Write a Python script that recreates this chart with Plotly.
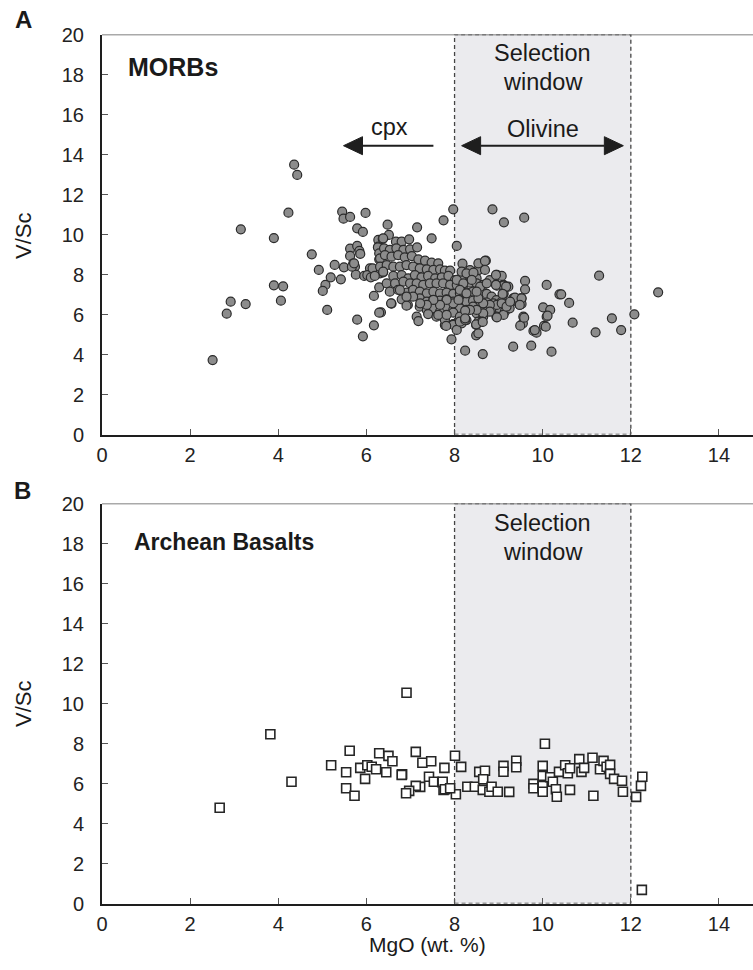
import plotly.graph_objects as go

# ---------------- DATA ----------------
# Panel A: MORBs (MgO wt.%, V/Sc)
morb_left = [(2.51,3.72),(2.83,6.04),(2.92,6.64),(3.26,6.52),(3.15,10.26),(3.90,9.82),(3.90,7.46),
    (4.11,7.41),(4.06,6.69),(4.23,11.09),(4.36,13.49),(4.43,12.98),(4.76,9.01),(4.92,8.23),(5.07,7.48),
    (5.01,7.18),(5.11,6.23),(5.19,7.86),(5.28,8.48),(5.42,7.76),(5.49,8.36),(5.45,11.14),(5.48,10.79),
    (5.63,10.88),(5.98,11.08),(5.79,10.31),(5.92,10.13),(5.63,9.29),(5.79,9.43),(5.84,9.18),(5.63,8.93),
    (5.70,8.54),(5.74,8.39),(5.76,7.99),(5.79,5.74),(5.92,4.91),(5.86,9.03),(5.67,8.39),(5.95,7.93),(5.72,8.56)]
morb_mid = [(6.17,5.46),(6.17,6.93),(6.33,6.11),(6.57,6.54),(6.08,8.31),(6.16,7.98),(6.31,8.06),(6.38,8.11),
    (6.27,9.73),(6.27,9.39),(6.37,9.78),(6.29,8.76),(6.48,10.49),(6.51,9.98),(7.15,10.36),(6.80,6.76),
    (6.94,6.48),(7.14,5.89),(7.18,5.67),(7.97,11.26),(7.75,10.71),(7.48,9.81),(8.05,9.43),(6.02,7.97),
    (6.10,7.86),(6.26,9.36),(6.29,9.06),(6.29,7.36),(6.29,6.09),(6.14,8.31)]
morb_cluster = [(6.38,9.81),(6.67,9.64),(6.80,9.64),(6.97,9.76),
    (6.40,9.31),(6.53,9.23),(6.68,9.31),(6.84,9.23),(6.99,9.26),(7.15,9.36),
    (6.31,8.81),(6.42,8.97),(6.57,8.89),(6.72,8.97),(6.87,8.86),(7.03,8.92),(7.18,8.76),(7.33,8.69),(7.48,8.59),(7.63,8.56),
    (6.31,8.39),(6.46,8.47),(6.61,8.39),(6.76,8.39),(6.91,8.47),(7.06,8.39),(7.21,8.31),(7.37,8.26),(7.52,8.23),(7.67,8.26),(7.78,8.19),(7.90,8.19),
    (6.19,7.93),(6.38,8.14),(6.61,7.93),(6.80,7.97),(6.95,7.81),(7.10,7.97),(7.25,7.86),(7.40,7.93),(7.56,7.81),(7.71,7.86),(7.86,7.93),
    (8.01,7.72),(8.16,7.86),(8.35,7.93),(8.50,7.81),(8.20,8.22),(8.35,8.22),(8.54,8.22),
    (6.46,7.56),(6.65,7.56),(6.84,7.64),(6.99,7.56),(7.14,7.56),(7.29,7.48),(7.44,7.56),(7.59,7.56),(7.74,7.56),(7.90,7.48),
    (8.05,7.48),(8.20,7.48),(8.35,7.59),(8.50,7.56),(8.65,7.48),(8.80,7.72),(8.95,7.48),(9.11,7.48),(9.22,7.39),
    (6.53,7.14),(6.72,7.23),(6.91,7.09),(7.06,7.23),(7.21,7.14),(7.37,7.06),(7.52,7.14),(7.67,7.06),(7.82,7.09),(7.97,7.03),
    (8.12,7.06),(8.27,7.09),(8.42,7.14),(8.57,7.06),(8.73,7.03),(8.84,6.89),(8.95,6.72),(9.11,7.03),
    (7.21,6.81),(7.37,6.64),(7.52,6.72),(7.67,6.69),(7.82,6.76),(7.97,6.64),(8.12,6.72),(8.27,6.64),(8.42,6.69),(8.57,6.64),
    (8.73,6.60),(8.88,6.56),(9.07,6.64),(9.22,6.56),(9.33,6.81),(9.41,6.64),(9.52,6.81),(6.56,6.56),
    (7.21,6.39),(7.37,6.23),(7.52,6.31),(7.67,6.14),(7.82,6.39),(7.97,6.23),(8.12,6.31),(8.27,6.23),(8.42,6.39),(8.57,6.23),
    (8.73,6.14),(8.88,6.14),(9.03,6.23),(9.14,6.14),(9.25,6.31),(9.48,6.48),(7.40,6.02),(7.59,5.89),(7.78,5.81),(7.97,6.09),
    (8.12,5.89),(8.27,5.72),(8.50,6.06),(8.65,5.89),(8.95,5.89),(9.11,5.98),(7.78,5.47),(7.97,5.52),(8.16,5.56)]
morb_window = [(8.18,8.54),(8.58,8.53),(8.71,8.69),(8.54,8.23),(8.69,8.23),(8.96,7.98),(9.07,7.93),(8.96,7.44),
    (9.11,7.44),(9.11,7.06),(9.33,6.73),(9.49,6.79),(9.52,6.53),(8.96,6.48),(9.07,6.56),(9.18,6.39),(8.80,6.48),
    (8.65,6.56),(8.54,6.81),(8.80,6.14),(8.96,5.86),(8.65,6.06),(8.50,6.23),(8.35,6.23),(8.24,6.19),(8.54,5.64),
    (8.49,5.48),(8.62,5.64),(7.97,5.48),(8.05,5.23),(7.93,4.76),(8.12,5.64),(8.24,5.73),(7.78,5.73),(7.63,5.98),
    (7.82,5.98),(6.91,6.44),(7.97,6.56),(8.09,6.73),(7.82,6.73),(7.67,6.48),(7.52,6.73),(7.37,6.48),(7.22,6.56),
    (7.06,6.89),(6.91,6.89),(6.76,7.23),(8.16,8.14),(8.27,8.06),(8.43,8.09),(8.05,7.73),(8.20,7.56),(8.39,7.73),
    (8.58,7.39),(8.73,7.56),(8.12,7.23),(8.27,7.06),(8.50,7.14)]
morb_right = [(8.86,11.26),(9.12,10.61),(9.58,10.84),(8.54,8.56),(8.69,8.68),(8.94,7.98),(8.94,7.48),(9.17,7.39),
    (9.60,7.68),(9.60,7.26),(10.09,7.48),(10.38,7.01),(9.37,6.84),(9.52,6.81),(9.26,6.64),(9.48,6.48),(9.09,7.03),
    (10.01,6.36),(10.17,6.23),(10.09,5.89),(10.03,5.43),(9.56,5.89),(9.55,5.56),(9.49,5.44),(9.79,5.18),(9.86,5.09),
    (9.33,4.39),(9.74,4.44),(10.20,4.14),(8.64,4.02),(8.24,4.19),(8.49,4.96),(8.54,5.06),(8.49,5.51),(8.64,5.63),
    (7.81,5.43),(8.24,5.81),(11.28,7.94),(12.62,7.11),(12.08,6.01),(11.57,5.81),(11.78,5.22),(11.20,5.11),
    (10.68,5.59),(10.60,6.58),(10.42,7.01),(10.07,5.39),(10.11,5.94),(9.82,5.22),(9.58,5.84)]

# Panel B: Archean basalts (MgO wt.%, V/Sc)
arch_left = [(2.67,4.79),(3.82,8.46),(4.30,6.09),(6.91,10.54),(5.20,6.91),(5.62,7.64),(5.54,6.56),(5.54,5.76),
    (5.73,5.39),(5.86,6.78),(6.02,6.91),(5.97,6.23),(6.12,6.84),(6.22,6.71),(6.29,7.51),(6.50,7.38),(6.59,7.11),
    (6.45,6.56),(6.81,6.46),(7.12,7.58),(7.27,7.04),(7.47,7.11),(7.77,6.78),(7.42,6.34),(7.53,6.09),(7.72,6.06),
    (7.22,5.83),(7.12,5.88),(6.97,5.63),(6.90,5.51),(7.75,5.68),(7.86,5.76),(6.80,6.43)]
arch_window = [(8.01,7.39),(8.15,6.83),(7.73,6.09),(7.78,5.71),(8.03,5.46),(7.90,5.76),(8.29,5.84),(8.46,5.84),
    (8.56,6.58),(8.69,6.64),(8.65,6.21),(8.64,5.68),(8.79,5.59),(8.84,5.84),(8.98,5.59),(9.24,5.58),(9.11,6.88),
    (9.11,6.59),(9.40,7.14),(9.40,6.81),(10.05,7.99),(10.00,6.88),(10.00,6.38),(9.79,5.98),(9.79,5.76),(10.00,5.88),
    (10.00,5.59),(10.17,6.31),(10.23,6.09),(10.30,5.71),(10.32,5.34),(10.37,6.58),(10.51,6.91),(10.57,6.51),
    (10.62,6.76),(10.62,5.68),(10.83,7.22),(10.88,6.58),(10.94,6.78),(11.13,7.29),(11.15,5.39),(11.30,6.71),
    (11.38,7.13),(11.45,6.84),(11.53,6.93),(11.53,6.48),(11.62,6.23),(11.80,6.14),(11.82,5.59)]
arch_right = [(12.12,5.33),(12.23,5.88),(12.26,6.34),(12.25,0.68)]

window_mgo = [8, 12]
x_ticks = [0, 2, 4, 6, 8, 10, 12, 14]
y_ticks = [0, 2, 4, 6, 8, 10, 12, 14, 16, 18, 20]

morb = morb_left + morb_mid + morb_cluster + morb_window + morb_right
arch = arch_left + arch_window + arch_right

# ---------------- FIGURE ----------------
W, H = 753, 970
L = 102
FONT = "Liberation Sans, Arial, Helvetica, sans-serif"
INK = "#1e1e1e"

def pxx(p):
    return (p - L) / (W - L)

def pxy(p):
    return (H - p) / H

fig = go.Figure()
fig.add_trace(go.Scatter(
    x=[p[0] for p in morb], y=[p[1] for p in morb], mode="markers",
    marker=dict(symbol="circle", size=9, color="#8c8c8c", line=dict(color="#2b2b2b", width=1.2)),
    xaxis="x", yaxis="y", showlegend=False, hoverinfo="x+y"))
fig.add_trace(go.Scatter(
    x=[p[0] for p in arch], y=[p[1] for p in arch], mode="markers",
    marker=dict(symbol="square", size=9, color="white", line=dict(color="#262626", width=1.6)),
    xaxis="x2", yaxis="y2", showlegend=False, hoverinfo="x+y"))

axis_common = dict(
    showgrid=False, zeroline=False, showline=True, linecolor=INK, linewidth=2,
    ticks="inside", ticklen=6, tickwidth=1, tickcolor="#555", automargin=False,
    tickfont=dict(family=FONT, size=20, color="#222"),
)
xr = [0, (W - L) / 44.07]
fig.update_layout(
    template="none",
    width=W, height=H, margin=dict(l=L, r=0, t=0, b=0, pad=0), autosize=False,
    paper_bgcolor="white", plot_bgcolor="white",
    xaxis=dict(domain=[0, 1], anchor="y", range=xr, tickvals=x_ticks, ticklabelstandoff=1, **axis_common),
    yaxis=dict(domain=[pxy(434.5), pxy(34.5)], anchor="x", range=[0, 20], tickvals=y_ticks,
               ticklabelstandoff=12, **axis_common),
    xaxis2=dict(domain=[0, 1], anchor="y2", range=xr, tickvals=x_ticks, ticklabelstandoff=1, **axis_common),
    yaxis2=dict(domain=[pxy(903.5), pxy(503.5)], anchor="x2", range=[0, 20], tickvals=y_ticks,
                ticklabelstandoff=12, **axis_common),
)

shapes = []
for xa, ya in (("x", "y"), ("x2", "y2")):
    shapes.append(dict(type="rect", xref=xa, yref=ya, x0=window_mgo[0], x1=window_mgo[1], y0=0, y1=20,
                       fillcolor="#ebebee", line=dict(color="#444", width=1.3, dash="4px,3px"), layer="below"))
    shapes.append(dict(type="line", xref="paper", yref=ya, x0=0, x1=1, y0=20, y1=20,
                       line=dict(color="#555", width=1.3)))

# arrows (top panel)
ay = 14.44
hl = 19 / 44.07   # arrowhead length in MgO units
hh = 0.45         # arrowhead half height in V/Sc units
def head(tip, direction):
    b = tip - direction * hl
    return dict(type="path", xref="x", yref="y",
                path=f"M {tip},{ay} L {b},{ay + hh} L {b},{ay - hh} Z",
                fillcolor=INK, line=dict(color=INK, width=1))
shapes.append(dict(type="line", xref="x", yref="y", x0=5.48 + hl, x1=7.52, y0=ay, y1=ay,
                   line=dict(color=INK, width=2)))
shapes.append(head(5.48, -1))
shapes.append(dict(type="line", xref="x", yref="y", x0=8.16 + hl, x1=11.83 - hl, y0=ay, y1=ay,
                   line=dict(color=INK, width=2)))
shapes.append(head(8.16, -1))
shapes.append(head(11.83, 1))
fig.update_layout(shapes=shapes)

ann = []
def txt(text, x, y, size, xref="paper", yref="paper", bold=False, xanchor="center", angle=0):
    ann.append(dict(text=f"<b>{text}</b>" if bold else text, x=x, y=y, xref=xref, yref=yref,
                    showarrow=False, xanchor=xanchor, yanchor="middle", textangle=angle,
                    font=dict(family=FONT, size=size, color="#1a1a1a")))

txt("A", pxx(23.5), pxy(19), 24, bold=True)
txt("B", pxx(22), pxy(490), 24, bold=True)
txt("MORBs", pxx(126), pxy(67.5), 25, bold=True, xanchor="left")
txt("Archean Basalts", pxx(132), pxy(542), 23, bold=True, xanchor="left")
txt("Selection", 10, 19.05, 23.5, xref="x", yref="y")
txt("window", 10, 17.6, 23.5, xref="x", yref="y")
txt("Olivine", 10, 15.3, 23.5, xref="x", yref="y")
txt("cpx", 6.53, 15.35, 23.5, xref="x", yref="y")
txt("Selection", 10, 19.05, 23.5, xref="x2", yref="y2")
txt("window", 10, 17.6, 23.5, xref="x2", yref="y2")
txt("V/Sc", pxx(23), pxy(236), 22, angle=-90)
txt("V/Sc", pxx(23), pxy(704), 22, angle=-90)
txt("MgO (wt. %)", pxx(427), pxy(944), 21)
fig.update_layout(annotations=ann)

fig.write_html("out.html", config={"displayModeBar": False},
               post_script="document.body.style.margin='0px';")
